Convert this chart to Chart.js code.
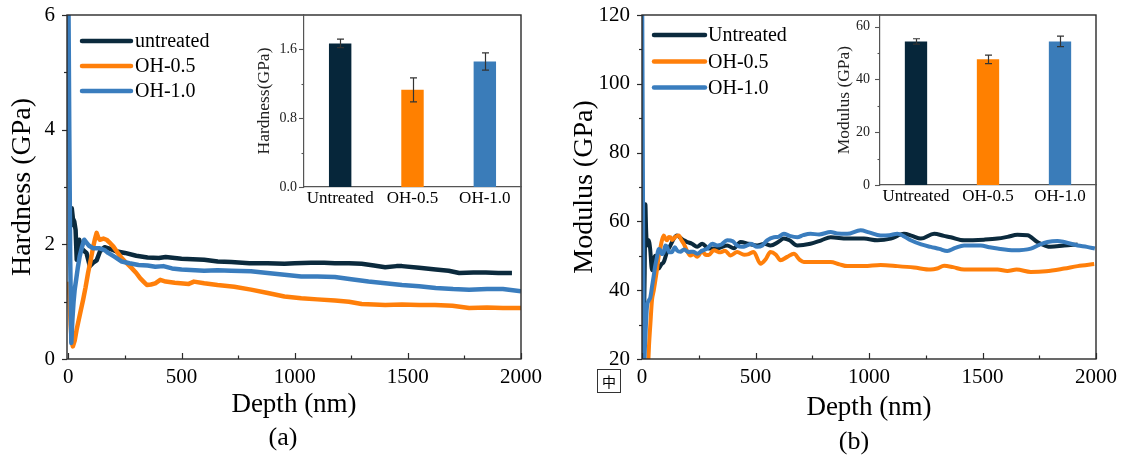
<!DOCTYPE html>
<html><head><meta charset="utf-8">
<script src="https://cdn.jsdelivr.net/npm/chart.js@4.4.1/dist/chart.umd.min.js"></script>
<style>
html,body{margin:0;padding:0;background:#fff;width:1126px;height:459px;overflow:hidden;}
.box{position:absolute;}
canvas{display:block;}
.cap{position:absolute;font-family:'Liberation Serif','Times New Roman',serif;font-size:26px;color:#000;transform:translate(-50%,-50%);white-space:nowrap;}
.ime{position:absolute;left:597px;top:369px;width:22px;height:22px;border:1.5px solid #333;font-family:'Noto Sans CJK SC',sans-serif;font-size:14px;line-height:22px;text-align:center;color:#000;}
</style></head><body>
<div class="box" style="left:0;top:0;width:560px;height:459px"><canvas id="hMain"></canvas></div>
<div class="box" style="left:560px;top:0;width:566px;height:459px"><canvas id="mMain"></canvas></div>
<div class="box" style="left:240px;top:0;width:290px;height:215px"><canvas id="hInset"></canvas></div>
<div class="box" style="left:800px;top:0;width:310px;height:215px"><canvas id="mInset"></canvas></div>
<div class="cap" style="left:283px;top:437px">(a)</div>
<div class="cap" style="left:854px;top:441px">(b)</div>
<div class="ime">中</div>
<script>
// ---------- data ----------
const depthMajor = [0, 500, 1000, 1500, 2000];
const depthMinor = [250, 750, 1250, 1750];
const hardMajor = [0, 2, 4, 6];
const hardMinor = [1, 3, 5];
const modMajor = [20, 40, 60, 80, 100, 120];
const modMinor = [30, 50, 70, 90, 110];
const insetCats = ['Untreated', 'OH-0.5', 'OH-1.0'];
const insetHardMajor = [0, 0.8, 1.6];
const insetHardMinor = [0.4, 1.2];
const insetModMajor = [0, 20, 40, 60];
const insetModMinor = [10, 30, 50];
const hardBar = [1.67, 1.13, 1.46];
const hardErr = [0.05, 0.14, 0.10];
const modBar = [54.4, 47.6, 54.4];
const modErr = [1.0, 1.6, 2.0];
const labelsA = ['untreated', 'OH-0.5', 'OH-1.0'];
const labelsB = ['Untreated', 'OH-0.5', 'OH-1.0'];

const hUntDepth = [10,15,20,26,32,37,43,48,55,65,80,95,110,125,140,160,185,210,250,300,350,400,430,500,550,600,660,720,800,880,955,1000,1073,1130,1178,1240,1296,1350,1400,1450,1474,1550,1623,1680,1727,1790,1845,1900,1960];
const hUnt = [2.30,2.63,2.45,2.40,2.25,1.73,1.95,2.08,1.95,1.90,1.85,1.62,1.68,1.72,1.88,1.95,1.92,1.88,1.85,1.80,1.77,1.76,1.78,1.75,1.74,1.73,1.70,1.69,1.67,1.67,1.66,1.67,1.68,1.68,1.67,1.67,1.66,1.63,1.60,1.62,1.62,1.59,1.56,1.54,1.50,1.51,1.51,1.50,1.50];
const hO5Depth = [2,6,10,15,20,28,36,43,55,65,76,87,100,110,118,125,132,139,155,169,185,199,215,236,258,280,300,317,332,347,365,384,406,430,470,532,555,600,659,733,807,881,955,1029,1100,1178,1240,1296,1350,1400,1474,1550,1620,1697,1771,1850,1920,2000];
const hO5 = [1.35,1.00,0.60,0.30,0.22,0.32,0.50,0.63,0.85,1.03,1.25,1.50,1.75,1.96,2.10,2.20,2.12,2.08,2.10,2.08,2.02,1.96,1.87,1.76,1.67,1.585,1.50,1.41,1.35,1.29,1.30,1.32,1.38,1.35,1.33,1.31,1.35,1.32,1.29,1.26,1.21,1.15,1.09,1.06,1.04,1.02,1.00,0.96,0.95,0.94,0.95,0.94,0.94,0.93,0.89,0.90,0.89,0.89];
const hO1Depth = [0,4,8,13,18,23,28,35,42,50,60,70,80,90,110,139,160,176,205,236,270,310,350,384,420,458,500,560,600,659,720,807,880,955,1029,1100,1178,1250,1326,1400,1474,1550,1623,1700,1771,1850,1920,2000];
const hO1 = [6.5,4.0,1.8,0.28,0.70,1.00,1.21,1.40,1.60,1.79,1.95,2.08,2.03,1.98,1.93,1.93,1.90,1.85,1.78,1.70,1.67,1.64,1.63,1.61,1.62,1.58,1.56,1.55,1.54,1.55,1.54,1.53,1.50,1.47,1.44,1.44,1.43,1.39,1.35,1.32,1.29,1.27,1.24,1.22,1.21,1.22,1.22,1.18];

const mUntDepth = [6,12,15,18,22,29,36,44,52,59,66,73,85,96,110,125,140,154,170,184,200,220,243,265,294,330,375,405,434,470,507,540,566,600,625,650,684,742,790,831,904,978,1037,1096,1154,1190,1228,1287,1330,1360,1419,1507,1566,1610,1654,1698,1742,1801,1860,1919];
const mUnt = [18,45,65,58,53,54.5,52,45.8,49,50,47,46.3,47.5,48.2,51.1,53,55,55.9,55.2,54.5,54,53.5,52.6,53.5,52.1,52.1,53,52.2,54,53.5,53,53.5,53,54,55,54.5,53,53.5,54.5,55.4,55,55,54.5,55,56.4,55.8,55,56.4,55.8,55.4,54.5,54.7,55,55.5,56.1,56,54,52.6,53,53.3];
const mO5Depth = [25,31,37,44,52,59,66,73,80,88,96,103,110,118,125,133,147,162,174,184,198,213,228,243,265,280,294,316,346,365,390,419,450,470,492,522,545,566,590,610,640,669,695,713,772,831,870,904,978,1051,1125,1198,1272,1300,1331,1370,1419,1490,1566,1610,1650,1713,1780,1860,1919,1992];
const mO5 = [15,24,30.3,37.1,40,42.9,46,49.7,52,54.5,55.9,55,54.5,55.5,55.4,54.6,55.5,55.9,54.5,53.5,51.5,50.1,50.5,49.7,51.3,50.3,50.2,51.6,51,51.5,50.1,51.1,50.3,50.5,51.1,47.7,49,51.1,50.3,48.7,49.7,50.6,48.8,48.2,48.2,48.2,47.5,47,47,47.3,47,46.6,46,46.3,47.1,46.7,46,46,46,45.6,46,45.3,45.5,46.3,47,47.6];
const mO1Depth = [1,5,9,14,22,30,37,44,51,58,66,73,81,88,96,103,110,120,132,145,155,169,185,206,225,243,265,287,310,331,350,375,400,419,440,463,480,507,530,551,581,600,625,650,684,710,742,780,831,860,904,963,1000,1051,1090,1125,1150,1184,1230,1272,1310,1345,1380,1419,1492,1530,1566,1640,1713,1750,1786,1830,1860,1919,1960,1995];
const mO1 = [125,60,18,25,35.2,37,38,41,43.9,47,49.7,52,51.6,50.5,51.1,53,52.6,51,51.1,52.5,51.5,51.2,51.8,51.1,51.2,50.6,51.5,52.1,53.5,53,53.3,54.5,54.2,53,52.6,53,53.5,52.6,53,54.5,55.4,55.5,56.4,55.8,55.4,56,56.4,56.2,56.9,56.5,56.4,57.4,56.8,55.9,56,56.4,55.8,54.5,53.3,52.6,52,51.4,52.3,53,53,52.5,52.1,51.6,52.1,53.2,54,54.3,54,53,52.6,52.1];

// ---------- styles ----------
const SERIF = "'Liberation Serif','Times New Roman',serif";
const COL = ['#0b2a3d', '#ff7f0a', '#3a7dbe'];
const BAR_COL = ['#06263a', '#ff8000', '#3a7cb9'];
Chart.defaults.font.family = SERIF;
Chart.defaults.color = '#000';
Chart.defaults.animation = false;

const pts = (xs, ys) => xs.map((x, i) => ({x: x, y: ys[i]}));
const setTicks = arr => s => { s.ticks = arr.map(v => ({value: v})); };
// fixes a scale's thickness and removes the label-overflow padding so the plot box stays where it is put
const fixSize = (prop, size) => s => {
  s[prop] = size;
  s.paddingTop = 0; s.paddingBottom = 0; s.paddingLeft = 0; s.paddingRight = 0;
};

// ---------- plugins ----------
const tickMarks = {
  id: 'tickMarks',
  afterDatasetsDraw(chart, args, o) {
    if (!o.axes) return;
    const ctx = chart.ctx;
    ctx.save();
    ctx.strokeStyle = o.color || '#222';
    ctx.lineWidth = o.width || 1.2;
    o.axes.forEach(a => {
      const s = chart.scales[a.id];
      const draw = (vals, len) => vals.forEach(v => {
        const p = Math.round(s.getPixelForValue(v)) + 0.5;
        ctx.beginPath();
        if (s.isHorizontal()) {
          const y0 = s.top;
          ctx.moveTo(p, y0); ctx.lineTo(p, a.inward ? y0 - len : y0 + len);
        } else {
          const x0 = s.right;
          ctx.moveTo(x0, p); ctx.lineTo(a.inward ? x0 + len : x0 - len, p);
        }
        ctx.stroke();
      });
      draw(a.major, a.majorLen);
      draw(a.minor || [], a.minorLen);
    });
    ctx.restore();
  }
};
const frame = {
  id: 'frame',
  afterDatasetsDraw(chart, args, o) {
    if (!o.display) return;
    const {left, top, right, bottom} = chart.chartArea;
    const ctx = chart.ctx;
    ctx.save();
    ctx.strokeStyle = o.color; ctx.lineWidth = o.width;
    ctx.strokeRect(left, top, right - left, bottom - top);
    ctx.restore();
  }
};
const insideLegend = {
  id: 'insideLegend',
  afterDraw(chart, args, o) {
    if (!o.display) return;
    const ca = chart.chartArea, ctx = chart.ctx;
    ctx.save();
    ctx.font = o.font;
    ctx.textBaseline = 'middle';
    chart.data.datasets.forEach((ds, i) => {
      const y = ca.top + o.rows[i];
      ctx.strokeStyle = ds.borderColor; ctx.lineWidth = o.lineWidth; ctx.lineCap = 'round';
      ctx.beginPath(); ctx.moveTo(ca.left + o.x0, y); ctx.lineTo(ca.left + o.x1, y); ctx.stroke();
      ctx.fillStyle = '#000';
      ctx.fillText(ds.label, ca.left + o.tx, y + 1);
    });
    ctx.restore();
  }
};
const errorBars = {
  id: 'errorBars',
  afterDatasetsDraw(chart, args, o) {
    if (!o.errors) return;
    const meta = chart.getDatasetMeta(0), ys = chart.scales.y, vals = chart.data.datasets[0].data;
    const ctx = chart.ctx;
    ctx.save();
    ctx.strokeStyle = o.color; ctx.lineWidth = o.width;
    meta.data.forEach((bar, i) => {
      const x = Math.round(bar.x) + 0.5;
      const yt = ys.getPixelForValue(vals[i] + o.errors[i]);
      const yb = ys.getPixelForValue(vals[i] - o.errors[i]);
      ctx.beginPath();
      ctx.moveTo(x, yt); ctx.lineTo(x, yb);
      ctx.moveTo(x - o.cap, yt); ctx.lineTo(x + o.cap, yt);
      ctx.moveTo(x - o.cap, yb); ctx.lineTo(x + o.cap, yb);
      ctx.stroke();
    });
    ctx.restore();
  }
};

// ---------- main charts ----------
function lineDS(label, data, color, width, order, mono) {
  return {label: label, data: data, borderColor: color, backgroundColor: color, borderWidth: width,
    pointRadius: 0, fill: false, order: order, tension: 0,
    cubicInterpolationMode: mono ? 'monotone' : 'default', borderJoinStyle: 'round'};
}
const plain = v => String(v);

new Chart(document.getElementById('hMain'), {
  type: 'line',
  data: {datasets: [
    lineDS(labelsA[0], pts(hUntDepth, hUnt), COL[0], 4.5, 3, false),
    lineDS(labelsA[1], pts(hO5Depth, hO5), COL[1], 4.5, 2, false),
    lineDS(labelsA[2], pts(hO1Depth, hO1), COL[2], 4.5, 1, false)
  ]},
  options: {
    responsive: true, maintainAspectRatio: false,
    layout: {padding: {top: 15, right: 39, bottom: 0, left: 0}},
    scales: {
      x: {type: 'linear', min: -6, max: 2000, afterBuildTicks: setTicks(depthMajor), afterFit: fixSize('height', 100),
        grid: {display: false, drawTicks: false}, border: {display: false},
        ticks: {font: {size: 21}, padding: 6, maxRotation: 0, autoSkip: false, callback: plain},
        title: {display: true, text: 'Depth (nm)', font: {size: 27}, padding: {top: 0, bottom: 38}}},
      y: {min: 0, max: 6, afterBuildTicks: setTicks(hardMajor), afterFit: fixSize('width', 67),
        grid: {display: false, drawTicks: false}, border: {display: false},
        ticks: {font: {size: 21}, padding: 12, callback: plain},
        title: {display: true, text: 'Hardness (GPa)', font: {size: 28}, padding: {top: 6, bottom: 0}}}
    },
    plugins: {
      legend: {display: false}, tooltip: {enabled: false},
      frame: {display: true, color: '#2a2a2a', width: 1.4},
      tickMarks: {color: '#2a2a2a', width: 1.2, axes: [
        {id: 'x', major: depthMajor, minor: depthMinor, majorLen: 6, minorLen: 3.5, inward: true},
        {id: 'y', major: hardMajor, minor: hardMinor, majorLen: 5, minorLen: 3, inward: false}]},
      insideLegend: {display: true, font: '20px ' + SERIF, rows: [26, 51, 76], x0: 15, x1: 64, tx: 68, lineWidth: 4.5}
    }
  },
  plugins: [frame, tickMarks, insideLegend]
});

new Chart(document.getElementById('mMain'), {
  type: 'line',
  data: {datasets: [
    lineDS(labelsB[0], pts(mUntDepth, mUnt), COL[0], 4, 3, true),
    lineDS(labelsB[1], pts(mO5Depth, mO5), COL[1], 4, 2, true),
    lineDS(labelsB[2], pts(mO1Depth, mO1), COL[2], 4, 1, true)
  ]},
  options: {
    responsive: true, maintainAspectRatio: false,
    layout: {padding: {top: 15, right: 30, bottom: 0, left: 0}},
    scales: {
      x: {type: 'linear', min: 0, max: 2000, afterBuildTicks: setTicks(depthMajor), afterFit: fixSize('height', 100),
        grid: {display: false, drawTicks: false}, border: {display: false},
        ticks: {font: {size: 21}, padding: 6, maxRotation: 0, autoSkip: false, callback: plain},
        title: {display: true, text: 'Depth (nm)', font: {size: 27}, padding: {top: 0, bottom: 35}}},
      y: {min: 20, max: 120, afterBuildTicks: setTicks(modMajor), afterFit: fixSize('width', 82),
        grid: {display: false, drawTicks: false}, border: {display: false},
        ticks: {font: {size: 21}, padding: 12, callback: plain},
        title: {display: true, text: 'Modulus (GPa)', font: {size: 28}, padding: {top: 8, bottom: 0}}}
    },
    plugins: {
      legend: {display: false}, tooltip: {enabled: false},
      frame: {display: true, color: '#2a2a2a', width: 1.4},
      tickMarks: {color: '#2a2a2a', width: 1.2, axes: [
        {id: 'x', major: depthMajor, minor: depthMinor, majorLen: 6, minorLen: 3.5, inward: true},
        {id: 'y', major: modMajor, minor: modMinor, majorLen: 5, minorLen: 3, inward: false}]},
      insideLegend: {display: true, font: '20px ' + SERIF, rows: [20, 46.5, 72.5], x0: 12, x1: 63, tx: 66, lineWidth: 4.5}
    }
  },
  plugins: [frame, tickMarks, insideLegend]
});

// ---------- insets ----------
function inset(id, values, errs, yMax, major, minor, fmt, title, yWidth, xHeight, padRight, tickPad, titlePad) {
  new Chart(document.getElementById(id), {
    type: 'bar',
    data: {labels: insetCats, datasets: [{data: values, backgroundColor: BAR_COL, borderWidth: 0,
      barPercentage: 0.31, categoryPercentage: 1.0}]},
    options: {
      responsive: true, maintainAspectRatio: false,
      layout: {padding: {top: 15, right: padRight, bottom: 0, left: 0}},
      scales: {
        x: {afterFit: fixSize('height', xHeight), grid: {display: false, drawTicks: false},
          border: {display: true, color: '#555', width: 1.2},
          ticks: {font: {size: 17}, padding: 1, maxRotation: 0, autoSkip: false}},
        y: {min: 0, max: yMax, afterBuildTicks: setTicks(major), afterFit: fixSize('width', yWidth),
          grid: {display: false, drawTicks: false}, border: {display: true, color: '#555', width: 1.2},
          ticks: {font: {size: 14}, padding: tickPad, color: '#222', callback: fmt},
          title: {display: true, text: title, font: {size: 17.5}, color: '#222', padding: {top: titlePad, bottom: 0}}}
      },
      plugins: {
        legend: {display: false}, tooltip: {enabled: false},
        errorBars: {errors: errs, color: '#333', width: 1.2, cap: 3.5},
        tickMarks: {color: '#555', width: 1.1, axes: [
          {id: 'y', major: major, minor: minor, majorLen: 5, minorLen: 2.5, inward: false}]}
      }
    },
    plugins: [errorBars, tickMarks]
  });
}
inset('hInset', hardBar, hardErr, 2.0, insetHardMajor, insetHardMinor, v => Number(v).toFixed(1), 'Hardness(GPa)', 64, 28, 9, 7, 14);
inset('mInset', modBar, modErr, 64.4, insetModMajor, insetModMinor, v => String(v), 'Modulus (GPa)', 80, 30, 14, 10, 34);
</script>
</body></html>
